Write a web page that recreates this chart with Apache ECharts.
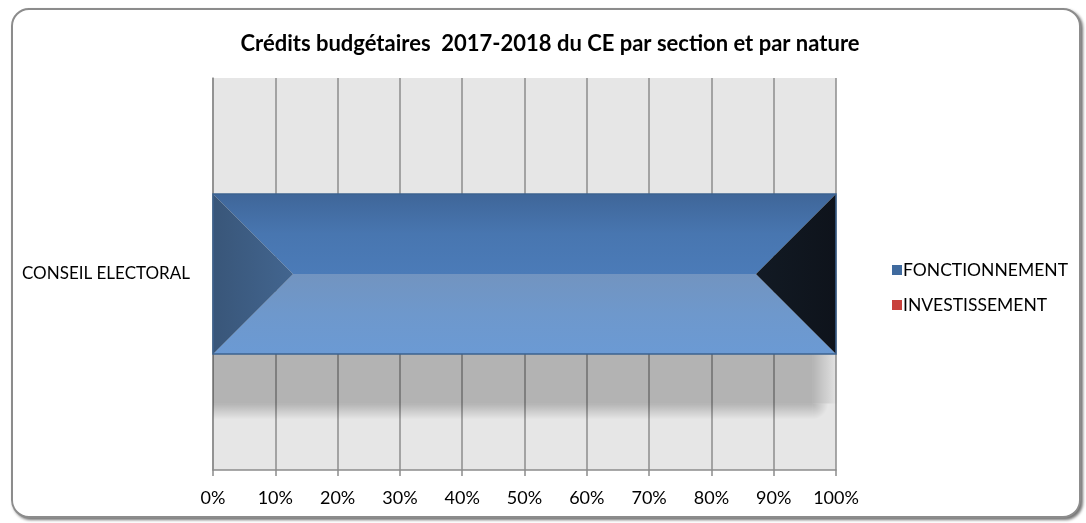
<!DOCTYPE html>
<html>
<head>
<meta charset="utf-8">
<script src="https://cdn.jsdelivr.net/npm/echarts@6/dist/echarts.min.js"></script>
<style>
html,body{margin:0;padding:0;background:#fff;}
#frame{position:absolute;left:11px;top:8px;width:1070px;height:510px;box-sizing:border-box;border:2px solid #8c8c8c;border-radius:18px;box-shadow:2px 2px 3px rgba(0,0,0,0.55);background:#fff;}
#chart{position:absolute;left:0;top:0;width:1086px;height:523px;}
</style>
</head>
<body>
<div id="frame"></div>
<div id="chart"></div>
<script>
const titleText = 'Crédits budgétaires  2017-2018 du CE par section et par nature';
const categories = ['CONSEIL ELECTORAL'];
const seriesNames = ['FONCTIONNEMENT', 'INVESTISSEMENT'];
const fonctionnement = [100];
const investissement = [0];
const xTicks = [0, 10, 20, 30, 40, 50, 60, 70, 80, 90, 100];

const FONT = 'Lato, "Open Sans", sans-serif';

function stacked(base, vals) {
  return vals.map((v, i) => [base[i], base[i] + v, i]);
}
const zeros = categories.map(() => 0);
const fData = stacked(zeros, fonctionnement);
const iData = stacked(fonctionnement, investissement);

function lg(x0, y0, x1, y1, stops) {
  return new echarts.graphic.LinearGradient(x0, y0, x1, y1, stops.map((c, i) => ({offset: i / (stops.length - 1), color: c})));
}

function makeRender(pal) {
  return function (params, api) {
    const s = api.coord([api.value(0), api.value(2)]);
    const e = api.coord([api.value(1), api.value(2)]);
    const band = api.size([0, 1])[1];
    const h = band * 0.408;
    const x0 = s[0], x1 = e[0];
    const w = x1 - x0;
    if (w <= 0.5) return null;
    const y0 = s[1] - h / 2, y1 = s[1] + h / 2, ym = s[1];
    const d = Math.min(h / 2, w / 2);
    const shW = w * 0.962;
    const shBottom = y1 + h * 0.31;
    const fade = h * 0.1;
    const shc = 'rgba(0,0,0,0.22)';
    const children = [];
    if (pal.shadow) {
      children.push(
        {type: 'rect', shape: {x: x0, y: ym, width: shW, height: shBottom - ym}, style: {fill: shc}},
        {type: 'rect', shape: {x: x0, y: shBottom, width: shW, height: fade}, style: {fill: lg(0, 0, 0, 1, [shc, 'rgba(0,0,0,0)'])}},
        {type: 'rect', shape: {x: x0 + shW, y: ym, width: fade * 1.6, height: shBottom - ym}, style: {fill: lg(0, 0, 1, 0, [shc, 'rgba(0,0,0,0)'])}},
        {type: 'rect', shape: {x: x0 + shW, y: shBottom, width: fade * 1.6, height: fade}, style: {fill: new echarts.graphic.RadialGradient(0, 0, 1, [{offset: 0, color: shc}, {offset: 1, color: 'rgba(0,0,0,0)'}])}}
      );
    }
    children.push(
      {type: 'polygon', shape: {points: [[x0, y0], [x1, y0], [x1 - d, ym], [x0 + d, ym]]}, style: {fill: lg(0, 0, 0, 1, pal.top)}},
      {type: 'polygon', shape: {points: [[x0 + d, ym], [x1 - d, ym], [x1, y1], [x0, y1]]}, style: {fill: lg(0, 0, 0, 1, pal.bottom)}},
      {type: 'polygon', shape: {points: [[x0, y0], [x0 + d, ym], [x0, y1]]}, style: {fill: lg(0, 0, 1, 0, pal.left)}},
      {type: 'polygon', shape: {points: [[x1, y0], [x1, y1], [x1 - d, ym]]}, style: {fill: lg(0, 0, 1, 0, pal.right)}},
      {type: 'rect', shape: {x: x0, y: y0, width: w, height: h}, style: {fill: null, stroke: pal.edge, lineWidth: 1.5}}
    );
    return {type: 'group', children: children};
  };
}

const bluePal = {
  shadow: true,
  top: ['#3f6699', '#4876b0', '#4b7bb8'],
  bottom: ['#7294c0', '#6e98cc', '#6b9ad4'],
  left: ['#395679', '#42658f'],
  right: ['#121a24', '#0e131b'],
  edge: '#3d6390'
};
const redPal = {
  shadow: false,
  top: ['#a93632', '#c0504d'],
  bottom: ['#d46d6a', '#d9726f'],
  left: ['#8e2b28', '#9c302c'],
  right: ['#2a0d0c', '#210a09'],
  edge: '#9a3330'
};

const chart = echarts.init(document.getElementById('chart'), null, {renderer: 'canvas'});
chart.setOption({
  backgroundColor: 'transparent',
  animation: false,
  title: {
    text: titleText,
    left: 545,
    top: 28,
    textAlign: 'center',
    textStyle: {fontFamily: FONT, fontWeight: 'bold', fontSize: 22, color: '#000'}
  },
  legend: {
    orient: 'vertical',
    left: 887,
    top: 256,
    itemWidth: 10,
    itemHeight: 10,
    itemGap: 17,
    icon: 'rect',
    data: seriesNames,
    textStyle: {fontFamily: FONT, fontSize: 17.5, color: '#000', lineHeight: 17, padding: [0, 0, 0, -4]}
  },
  grid: {
    left: 213, right: 250, top: 78, bottom: 53,
    show: true, backgroundColor: '#e6e6e6', borderWidth: 0
  },
  xAxis: {
    type: 'value',
    min: xTicks[0],
    max: xTicks[xTicks.length - 1],
    interval: xTicks[1] - xTicks[0],
    axisLine: {show: true, lineStyle: {color: '#8c8c8c', width: 1.5}},
    axisTick: {show: true, length: 6, lineStyle: {color: '#8c8c8c', width: 1.5}},
    splitLine: {show: true, lineStyle: {color: '#8c8c8c', width: 1.5}},
    axisLabel: {formatter: '{value}%', margin: 19, fontFamily: FONT, fontSize: 18, color: '#000'}
  },
  yAxis: {
    type: 'category',
    data: categories,
    axisLine: {show: true, lineStyle: {color: '#8c8c8c', width: 1.5}},
    axisTick: {show: false},
    axisLabel: {margin: 23, fontFamily: FONT, fontSize: 17, color: '#000'}
  },
  series: [
    {
      name: seriesNames[0], type: 'custom', renderItem: makeRender(bluePal),
      itemStyle: {color: '#3f6a9e'},
      encode: {x: [0, 1], y: 2}, data: fData
    },
    {
      name: seriesNames[1], type: 'custom', renderItem: makeRender(redPal),
      itemStyle: {color: '#c8413c'},
      encode: {x: [0, 1], y: 2}, data: iData
    }
  ]
});
</script>
</body>
</html>
